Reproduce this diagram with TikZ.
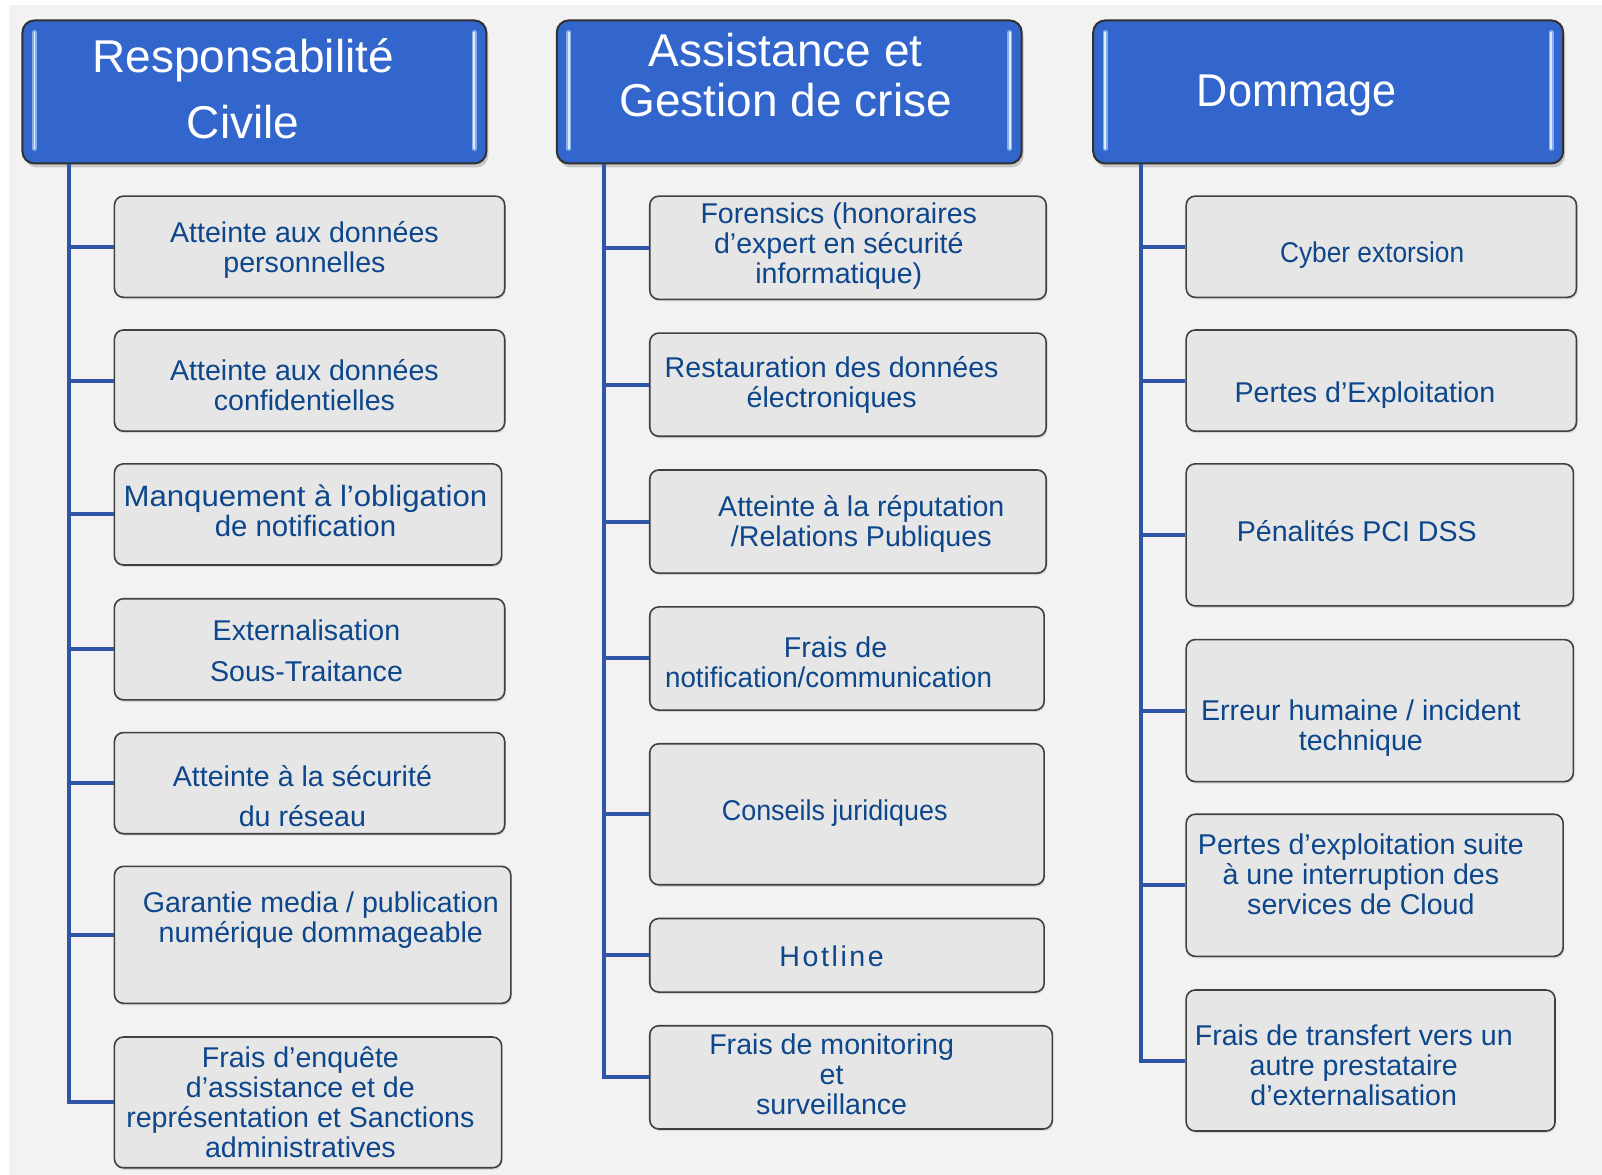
\documentclass[tikz,border=0pt]{standalone}
\usepackage{fontspec}
\usepackage{graphicx}
\setmainfont{Liberation Sans}
\usetikzlibrary{fit,shadows}
\definecolor{bgcol}{HTML}{F2F2F2}
\definecolor{hblue}{HTML}{3366CC}
\definecolor{hborder}{HTML}{303030}
\definecolor{cfill}{HTML}{E6E6E6}
\definecolor{cborder}{HTML}{404040}
\definecolor{tcol}{HTML}{0D468A}
\definecolor{lblue}{HTML}{2F55A8}
\definecolor{hlout}{HTML}{86AEEC}
\definecolor{hlin}{HTML}{DDEBFF}
\begin{document}
\begin{tikzpicture}[x=1.0217pt,y=-1.0217pt,
  hbox/.style={draw=hborder, line width=2pt, fill=hblue, rounded corners=12pt, inner sep=0pt,
    drop shadow={shadow xshift=2pt, shadow yshift=-4pt, opacity=0.3, fill=black!60}},
  cbox/.style={draw=cborder, line width=1.6pt, fill=cfill, rounded corners=9pt, inner sep=0pt,
    drop shadow={shadow xshift=1pt, shadow yshift=-2pt, opacity=0.2, fill=black!60}},
  htext/.style={text=white, align=center, inner sep=0pt},
  itemtext/.style={text=tcol, align=center, inner sep=0pt, yshift=-3pt, font=\fontsize{28.6}{30}\selectfont},
  conn/.style={draw=lblue, line width=4pt},
  hlo/.style={draw=hlout, line width=5pt, line cap=round},
  hli/.style={draw=hlin, line width=1.8pt, line cap=round}
]
\useasboundingbox (0,0) rectangle (1568,1150);
\fill[bgcol] (9,5) rectangle (1568,1150);

% ---------- headers ----------
\node[hbox, fit={(22,20)(476,160)}] (h1) {};
\node[hbox, fit={(545,20)(1000,160)}] (h2) {};
\node[hbox, fit={(1070,20)(1530,160)}] (h3) {};
\foreach \h in {h1,h2,h3}{
  \draw[hlo] ([xshift=13pt,yshift=-13pt]\h.north west) -- ([xshift=13pt,yshift=16pt]\h.south west);
  \draw[hli] ([xshift=13pt,yshift=-13pt]\h.north west) -- ([xshift=13pt,yshift=16pt]\h.south west);
  \draw[hlo] ([xshift=-13pt,yshift=-13pt]\h.north east) -- ([xshift=-13pt,yshift=16pt]\h.south east);
  \draw[hli] ([xshift=-13pt,yshift=-13pt]\h.north east) -- ([xshift=-13pt,yshift=16pt]\h.south east);
}
\node[htext, font=\fontsize{46}{66}\selectfont] (h1t) at (238,87) {Responsabilité\\Civile};
\node[htext, font=\fontsize{46}{50}\selectfont] (h2t) at (769,73) {Assistance et\\Gestion de crise};
\node[htext, font=\fontsize{46}{50}\selectfont] (h3t) at (1269,93) {\scalebox{0.94}[1]{Dommage}};

% ---------- column 1 ----------
\node[cbox, fit={(112,192)(494,291)}] (a1) {};
\node[cbox, fit={(112,323)(494,422)}] (a2) {};
\node[cbox, fit={(112,454)(491,553)}] (a3) {};
\node[cbox, fit={(112,586)(494,685)}] (a4) {};
\node[cbox, fit={(112,717)(494,816)}] (a5) {};
\node[cbox, fit={(112,848)(500,982)}] (a6) {};
\node[cbox, fit={(112,1015)(491,1143)}] (a7) {};
\node[itemtext] (a1t) at (298,242) {Atteinte aux données\\personnelles};
\node[itemtext] (a2t) at (298,374) {Atteinte aux données\\confidentielles};
\node[itemtext, font=\fontsize{29.4}{30}\selectfont] (a3t) at (299,497) {\scalebox{1.06}[1]{Manquement à l’obligation}\\de notification};
\node[itemtext, font=\fontsize{28.6}{41}\selectfont] (a4t) at (300,634) {Externalisation\\Sous-Traitance};
\node[itemtext, font=\fontsize{28.6}{40}\selectfont] (a5t) at (296,776) {Atteinte à la sécurité\\du réseau};
\node[itemtext] (a6t) at (314,898) {Garantie media / publication\\numérique dommageable};
\node[itemtext] (a7t) at (294,1076) {Frais d’enquête\\d’assistance et de\\représentation et Sanctions\\administratives};

% ---------- column 2 ----------
\node[cbox, fit={(636,192)(1024,293)}] (b1) {};
\node[cbox, fit={(636,326)(1024,427)}] (b2) {};
\node[cbox, fit={(636,460)(1024,561)}] (b3) {};
\node[cbox, fit={(636,594)(1022,695)}] (b4) {};
\node[cbox, fit={(636,728)(1022,866)}] (b5) {};
\node[cbox, fit={(636,899)(1022,971)}] (b6) {};
\node[cbox, fit={(636,1004)(1030,1105)}] (b7) {};
\node[itemtext] (b1t) at (821,238) {Forensics (honoraires\\d’expert en sécurité\\informatique)};
\node[itemtext] (b2t) at (814,374) {Restauration des données\\électroniques};
\node[itemtext] (b3t) at (843,510) {Atteinte à la réputation\\/Relations Publiques};
\node[itemtext] (b4t) at (811,645) {\hspace*{14pt}Frais de\\\scalebox{0.97}[1]{notification/communication}};
\node[itemtext] (b5t) at (817,793) {\scalebox{0.94}[1]{Conseils juridiques}};
\node[itemtext] (b6t) at (814,933) {\addfontfeature{LetterSpace=9}Hotline};
\node[itemtext] (b7t) at (814,1049) {Frais de monitoring\\et\\surveillance};

% ---------- column 3 ----------
\node[cbox, fit={(1161,192)(1543,291)}] (c1) {};
\node[cbox, fit={(1161,323)(1543,422)}] (c2) {};
\node[cbox, fit={(1161,454)(1540,593)}] (c3) {};
\node[cbox, fit={(1161,626)(1540,765)}] (c4) {};
\node[cbox, fit={(1161,797)(1530,936)}] (c5) {};
\node[cbox, fit={(1161,969)(1522,1107)}] (c6) {};
\node[itemtext] (c1t) at (1343,247) {\scalebox{0.92}[1]{Cyber extorsion}};
\node[itemtext] (c2t) at (1336,384) {Pertes d’Exploitation};
\node[itemtext] (c3t) at (1328,517) {Pénalités PCI DSS};
\node[itemtext] (c4t) at (1332,710) {Erreur humaine / incident\\technique};
\node[itemtext] (c5t) at (1332,853) {Pertes d’exploitation suite\\à une interruption des\\services de Cloud};
\node[itemtext] (c6t) at (1325,1040) {Frais de transfert vers un\\autre prestataire\\d’externalisation};

% ---------- connectors ----------
\coordinate (ta) at (68,0);
\coordinate (tb) at (591,0);
\coordinate (tc) at (1117,0);
\draw[conn] (ta |- h1.south) -- (ta |- a7.west) -- (a7.west);
\foreach \n in {a1,a2,a3,a4,a5,a6}{\draw[conn] (ta |- \n.west) -- (\n.west);}
\draw[conn] (tb |- h2.south) -- (tb |- b7.west) -- (b7.west);
\foreach \n in {b1,b2,b3,b4,b5,b6}{\draw[conn] (tb |- \n.west) -- (\n.west);}
\draw[conn] (tc |- h3.south) -- (tc |- c6.west) -- (c6.west);
\foreach \n in {c1,c2,c3,c4,c5}{\draw[conn] (tc |- \n.west) -- (\n.west);}
\end{tikzpicture}
\end{document}
